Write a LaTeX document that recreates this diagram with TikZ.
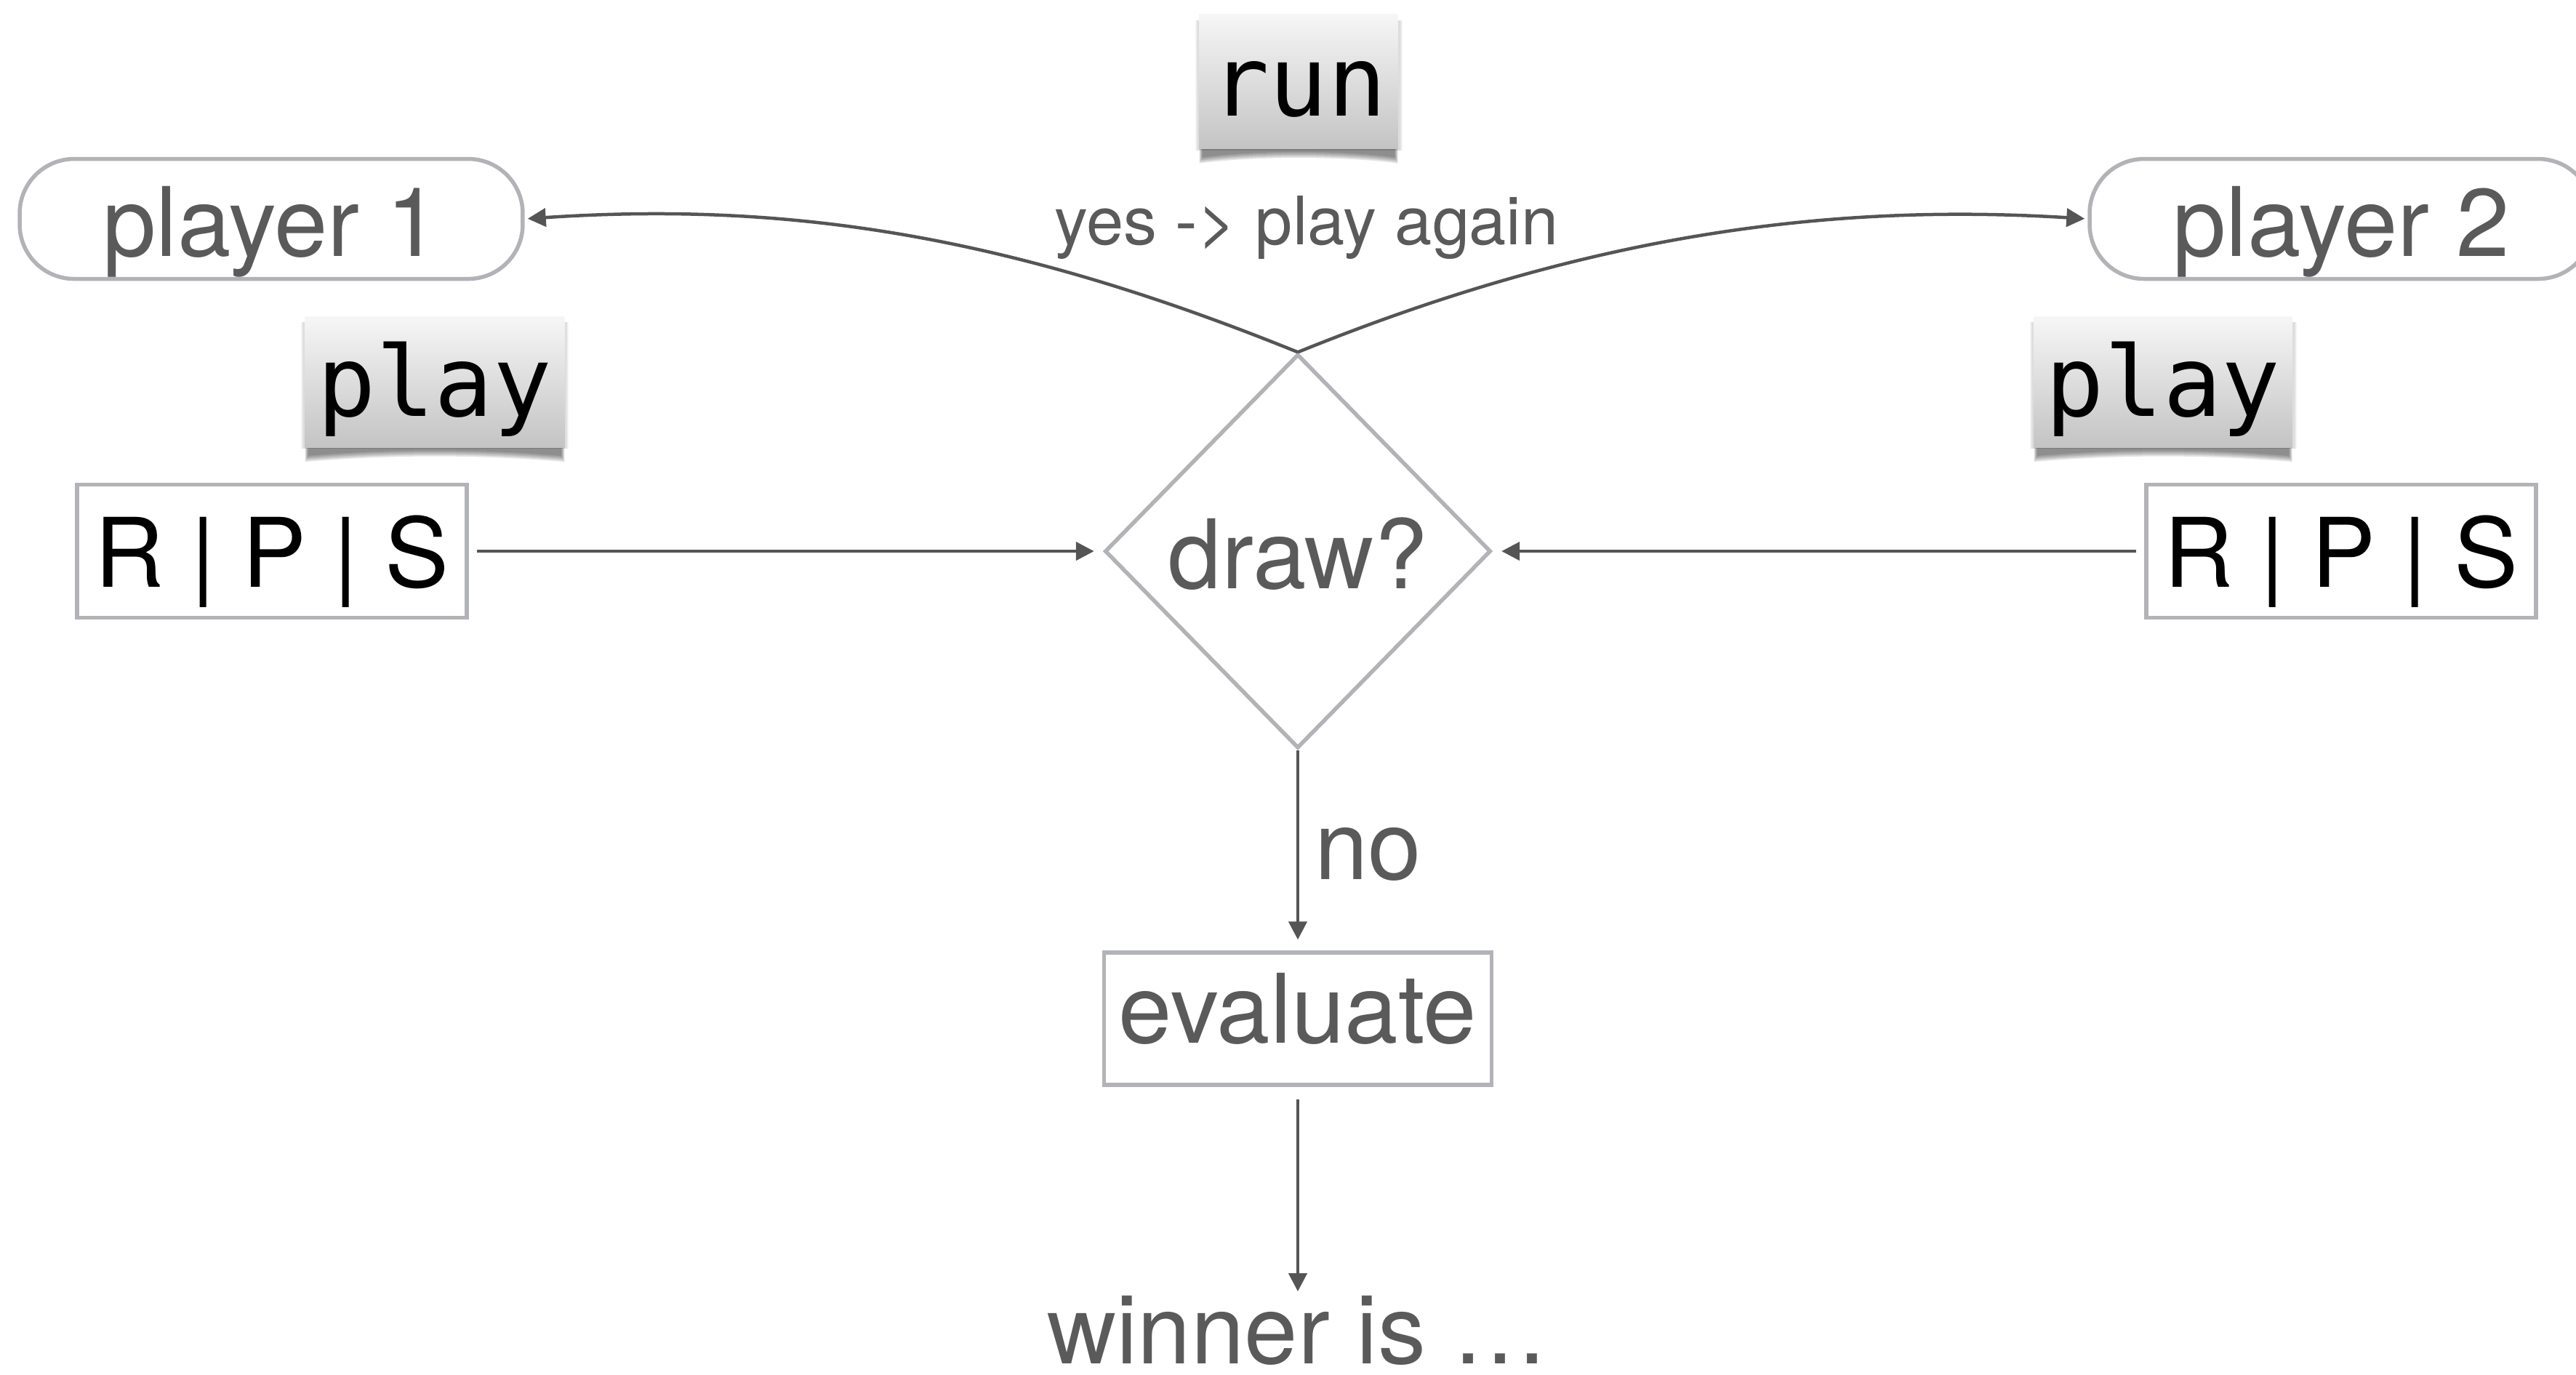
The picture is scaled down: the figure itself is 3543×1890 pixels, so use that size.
\documentclass[tikz,border=0pt]{standalone}
\usepackage{fontspec}
\setmainfont{TeX Gyre Heros}
\newfontfamily\monof{DejaVu Sans Mono}
\usetikzlibrary{shapes.geometric,arrows.meta,calc}
\pgfdeclarelayer{bg}
\pgfsetlayers{bg,main}
\definecolor{txt}{RGB}{90,90,90}
\definecolor{edgec}{RGB}{178,179,182}
\definecolor{arr}{RGB}{85,85,85}
\definecolor{tagtop}{RGB}{246,246,246}
\definecolor{tagbot}{RGB}{196,196,196}
\newcommand\tagshadow[1]{%
  \begin{pgfonlayer}{bg}
    \foreach \k in {0,2,4,6,8}{
      \fill[black,opacity=0.11] ($(#1.south west)+(6-\k/2,-20)$) -- ($(#1.south east)+(-6+\k/2,-20)$)
        -- ($(#1.south east)+(-6+\k/2,10+\k)$)
        .. controls ($(#1.south)+(60,\k)$) and ($(#1.south)+(-60,\k)$) .. ($(#1.south west)+(6-\k/2,10+\k)$) -- cycle;
    }
    \foreach \k in {1,...,4}{
      \fill[black,opacity=0.035] ($(#1.north west)+(-\k,10)$) rectangle ($(#1.south east)+(\k,0)$);
    }
  \end{pgfonlayer}}
\tikzset{
  x=0.1pt, y=-0.1pt,
  basebox/.style={font=\fontsize{13.2pt}{15pt}\selectfont, text=txt, draw=edgec, line width=0.55pt,
    fill=white, inner sep=0pt, text height=10.2pt, text depth=0pt},
  pill/.style={basebox, rounded corners=7.5pt, minimum width=69.2pt, minimum height=16.5pt},
  rps/.style={basebox, text=black, minimum width=53.6pt, minimum height=18.3pt, text height=9.8pt},
  dec/.style={basebox, diamond, minimum width=53.1pt, minimum height=54.2pt},
  proc/.style={basebox, minimum width=53.3pt, minimum height=18.2pt, text height=6.6pt},
  tag/.style={font=\monof\fontsize{13.4pt}{15pt}\selectfont, text=black, inner sep=0pt,
    top color=tagtop, bottom color=tagbot, text height=9.4pt, text depth=0pt},
  conn/.style={draw=arr, line width=0.45pt, -{Triangle[length=2.5pt,width=2.5pt]}},
  plain/.style={font=\fontsize{13.2pt}{15pt}\selectfont, text=txt, inner sep=0pt},
}
\begin{document}
\begin{tikzpicture}
\useasboundingbox (0,0) rectangle (3543,1890);
\clip (0,0) rectangle (3543,1890);

\node[pill] (p1) at (373,301) {player 1};
\node[pill] (p2) at (3220,301) {player 2};

\node[tag, minimum width=27.3pt, minimum height=18.5pt] (run) at (1786,112) {run};
\node[tag, minimum width=35.7pt, minimum height=18pt] (play1) at (598,525) {play};
\node[tag, minimum width=35.5pt, minimum height=18pt] (play2) at (2975,525) {play};
\tagshadow{run}
\tagshadow{play1}
\tagshadow{play2}

\node[rps] (r1) at (374,758) {R | P | S};
\node[rps] (r2) at (3220,758) {R | P | S};
\node[dec] (d) at (1785,758) {draw?};
\node[proc] (ev) at (1785,1401) {evaluate};
\node[plain, text height=9.7pt, text depth=0pt, anchor=north] (win) at (1785,1776) {winner is …};
\node[plain, font=\fontsize{9.2pt}{11pt}\selectfont, anchor=base] (yes) at (1797,336) {yes -> play again};
\node[plain, anchor=base west] (no) at (1806,1209) {no};

\draw[conn, shorten <=1.1pt, shorten >=1.2pt] (r1.east) -- (d.west);
\draw[conn, shorten <=1.1pt, shorten >=1.2pt] (r2.west) -- (d.east);
\draw[conn, shorten >=1.5pt] (d.south) -- (ev.north);
\draw[conn, shorten <=1.7pt] (ev.south) -- (win.north);
\draw[conn, shorten >=0.4pt] (d.north) .. controls +(-385,-156) and +(375,-25) .. (p1.east);
\draw[conn, shorten >=0.4pt] (d.north) .. controls +(385,-156) and +(-372,-23) .. (p2.west);
\end{tikzpicture}
\end{document}
